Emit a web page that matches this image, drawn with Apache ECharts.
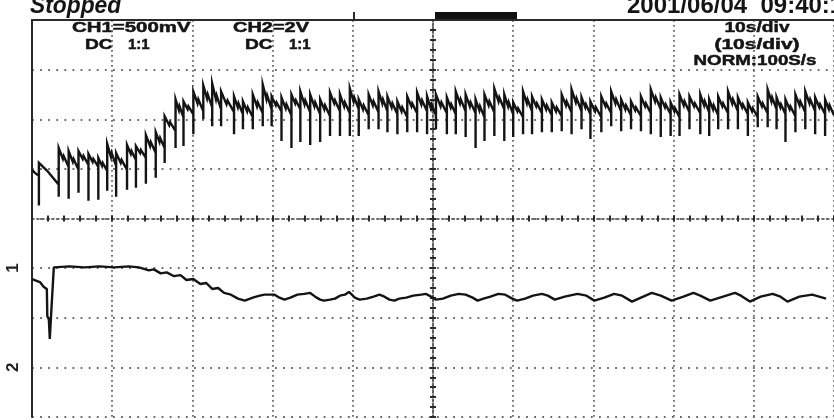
<!DOCTYPE html>
<html>
<head>
<meta charset="utf-8">
<script src="https://cdn.jsdelivr.net/npm/echarts@6/dist/echarts.min.js"></script>
<style>html,body{margin:0;padding:0;background:#fff}#c{width:834px;height:420px}</style>
</head>
<body>
<div id="c"></div>
<script>
// ---- CH1 (500 mV/div): sawtooth teeth, time in s (10 s/div), values in V ----
const ch1Time  = [0, 0.86, 3.33, 4.57, 5.80, 7.04, 8.27, 9.38, 10.49, 11.85, 12.96, 14.20, 15.43, 16.54, 17.90, 18.89, 20.12, 21.36, 22.47, 23.58, 25.19, 26.30, 27.53, 28.77, 29.88, 31.11, 32.35, 33.46, 34.69, 35.93, 37.16, 38.40, 39.63, 40.74, 41.98, 43.21, 44.32, 45.56, 46.79, 48.02, 49.26, 50.37, 51.73, 52.84, 54.07, 55.31, 56.42, 57.65, 58.89, 60.00, 61.23, 62.35, 63.58, 64.81, 66.05, 67.28, 68.52, 69.63, 70.99, 72.22, 73.46, 74.69, 75.93, 77.16, 78.40, 79.63, 80.74, 81.98, 83.33, 84.44, 85.56, 86.79, 88.02, 89.26, 90.49, 91.73, 92.84, 93.95, 95.19, 96.42, 97.65, 98.89];
const ch1Spike = [null, 0.63, 0.72, 0.70, 0.76, 0.68, 0.69, 0.78, 0.72, 0.79, 0.81, 0.85, 0.91, 1.06, 1.21, 1.23, 1.35, 1.50, 1.43, 1.43, 1.35, 1.40, 1.40, 1.43, 1.43, 1.28, 1.21, 1.27, 1.24, 1.27, 1.33, 1.33, 1.33, 1.33, 1.40, 1.40, 1.37, 1.35, 1.37, 1.37, 1.35, 1.40, 1.35, 1.35, 1.32, 1.21, 1.28, 1.33, 1.28, 1.32, 1.35, 1.35, 1.37, 1.37, 1.38, 1.35, 1.40, 1.30, 1.37, 1.43, 1.38, 1.40, 1.38, 1.35, 1.32, 1.33, 1.33, 1.40, 1.35, 1.33, 1.40, 1.40, 1.40, 1.33, 1.42, 1.42, 1.40, 1.27, 1.37, 1.40, 1.35, 1.33];
const ch1Peak  = [0.99, 1.06, 1.21, 1.18, 1.18, 1.15, 1.11, 1.25, 1.16, 1.24, 1.23, 1.34, 1.37, 1.53, 1.70, 1.68, 1.78, 1.84, 1.86, 1.78, 1.73, 1.68, 1.75, 1.85, 1.73, 1.72, 1.75, 1.78, 1.75, 1.70, 1.77, 1.75, 1.81, 1.70, 1.75, 1.78, 1.73, 1.68, 1.73, 1.77, 1.73, 1.75, 1.72, 1.78, 1.75, 1.70, 1.75, 1.81, 1.75, 1.67, 1.78, 1.73, 1.70, 1.67, 1.75, 1.80, 1.72, 1.68, 1.73, 1.78, 1.70, 1.68, 1.73, 1.80, 1.72, 1.67, 1.75, 1.73, 1.75, 1.70, 1.73, 1.78, 1.72, 1.67, 1.73, 1.80, 1.72, 1.70, 1.75, 1.78, 1.72, 1.70];
const ch1Dip   = [0.96, 0.98, 1.10, 1.07, 1.10, 1.07, 1.03, 1.12, 1.06, 1.15, 1.16, 1.23, 1.27, 1.44, 1.59, 1.60, 1.66, 1.71, 1.70, 1.65, 1.62, 1.58, 1.63, 1.70, 1.64, 1.61, 1.66, 1.65, 1.63, 1.60, 1.66, 1.63, 1.68, 1.60, 1.64, 1.66, 1.62, 1.58, 1.63, 1.65, 1.61, 1.63, 1.62, 1.66, 1.63, 1.59, 1.64, 1.68, 1.63, 1.58, 1.66, 1.63, 1.60, 1.58, 1.64, 1.67, 1.62, 1.58, 1.63, 1.66, 1.60, 1.59, 1.63, 1.68, 1.62, 1.58, 1.64, 1.63, 1.64, 1.60, 1.63, 1.66, 1.62, 1.58, 1.63, 1.68, 1.62, 1.60, 1.64, 1.66, 1.62, 1.60];
const ch1Bump  = [0.97, 1.00, 1.13, 1.10, 1.13, 1.10, 1.06, 1.16, 1.09, 1.18, 1.19, 1.27, 1.31, 1.47, 1.63, 1.63, 1.70, 1.75, 1.74, 1.69, 1.66, 1.62, 1.67, 1.74, 1.67, 1.65, 1.69, 1.69, 1.67, 1.64, 1.69, 1.67, 1.72, 1.64, 1.68, 1.70, 1.66, 1.62, 1.66, 1.69, 1.65, 1.67, 1.65, 1.70, 1.67, 1.63, 1.68, 1.72, 1.67, 1.61, 1.70, 1.66, 1.64, 1.62, 1.68, 1.71, 1.65, 1.62, 1.66, 1.70, 1.64, 1.62, 1.66, 1.72, 1.65, 1.61, 1.68, 1.66, 1.68, 1.64, 1.66, 1.70, 1.65, 1.61, 1.66, 1.72, 1.65, 1.63, 1.68, 1.70, 1.65, 1.64];
const ch1Low   = [0.93, 0.84, 1.02, 0.99, 1.04, 1.02, 0.98, 1.03, 0.99, 1.09, 1.11, 1.16, 1.21, 1.38, 1.52, 1.55, 1.58, 1.62, 1.60, 1.57, 1.55, 1.52, 1.56, 1.60, 1.58, 1.54, 1.60, 1.57, 1.55, 1.53, 1.58, 1.56, 1.60, 1.54, 1.57, 1.58, 1.55, 1.52, 1.56, 1.58, 1.54, 1.56, 1.55, 1.58, 1.56, 1.52, 1.57, 1.60, 1.55, 1.52, 1.58, 1.56, 1.54, 1.53, 1.57, 1.58, 1.55, 1.52, 1.56, 1.58, 1.54, 1.53, 1.56, 1.60, 1.55, 1.52, 1.57, 1.56, 1.57, 1.54, 1.56, 1.58, 1.55, 1.52, 1.56, 1.60, 1.55, 1.53, 1.57, 1.58, 1.55, 1.54];

// ---- CH2 (2 V/div) ----
const ch2Time = [0, 0.99, 1.48, 1.85, 1.91, 2.10, 2.22, 2.35, 2.59, 2.72, 4.69, 6.54, 8.40, 10.25, 12.10, 13.33, 14.57, 15.19, 16.05, 16.79, 17.65, 18.52, 19.26, 20.12, 20.99, 21.73, 22.47, 23.21, 23.95, 24.81, 25.68, 26.54, 27.53, 28.40, 29.01, 30.25, 30.86, 31.48, 32.22, 33.09, 33.95, 34.69, 35.31, 35.93, 36.42, 37.16, 37.78, 38.40, 39.01, 39.51, 39.88, 40.25, 40.86, 41.73, 42.59, 43.33, 43.95, 44.57, 45.19, 45.80, 46.67, 47.53, 48.52, 49.14, 49.75, 50.37, 51.23, 52.22, 53.21, 54.07, 54.94, 55.56, 56.30, 57.16, 58.15, 59.01, 59.88, 60.49, 61.48, 62.47, 63.58, 64.32, 65.19, 66.42, 68.02, 69.14, 70.12, 71.36, 72.59, 73.58, 74.81, 75.93, 77.28, 78.40, 79.75, 81.23, 82.47, 83.33, 84.57, 86.17, 87.65, 88.40, 89.51, 90.86, 92.35, 93.33, 94.20, 95.68, 97.28, 98.15, 99.01];
const ch2Volt = [3.56, 3.44, 3.24, 3.16, 2.06, 1.94, 1.15, 1.94, 2.02, 4.03, 4.07, 4.03, 4.07, 4.03, 4.07, 4.03, 3.91, 3.95, 3.79, 3.83, 3.68, 3.72, 3.52, 3.56, 3.36, 3.40, 3.16, 3.20, 3.00, 2.93, 2.77, 2.69, 2.81, 2.89, 2.93, 2.93, 2.81, 2.73, 2.81, 2.93, 2.96, 3.00, 2.85, 2.73, 2.69, 2.73, 2.77, 2.89, 2.93, 3.04, 2.93, 2.81, 2.73, 2.77, 2.85, 2.93, 2.85, 2.73, 2.69, 2.77, 2.81, 2.89, 2.93, 2.96, 2.85, 2.73, 2.77, 2.89, 2.96, 2.93, 2.81, 2.69, 2.77, 2.85, 2.96, 2.93, 2.77, 2.69, 2.77, 2.89, 2.96, 2.89, 2.73, 2.85, 2.96, 2.89, 2.69, 2.81, 2.96, 2.89, 2.65, 2.81, 3.00, 2.89, 2.69, 2.85, 3.00, 2.89, 2.69, 2.85, 3.00, 2.89, 2.65, 2.85, 2.96, 2.85, 2.65, 2.85, 2.93, 2.85, 2.77];

// ---- header texts ----
const statusText = 'Stopped';
const dateText = '2001/06/04  09:40:18';
const ch1Label = 'CH1=500mV';
const ch2Label = 'CH2=2V';
const couplingLabel = 'DC';
const probeLabel = '1:1';
const timebaseLabels = ['10s/div', '(10s/div)', 'NORM:100S/s'];

function buildCh1() {
  const pts = [];
  for (let i = 0; i < ch1Time.length; i++) {
    const t0 = ch1Time[i];
    const t1 = i + 1 < ch1Time.length ? ch1Time[i + 1] : 100;
    if (ch1Spike[i] !== null) pts.push([t0, ch1Spike[i]]);
    pts.push([t0, ch1Peak[i]]);
    pts.push([t0 + (t1 - t0) * 0.42, ch1Dip[i]]);
    pts.push([t0 + (t1 - t0) * 0.5, ch1Bump[i]]);
    pts.push([t1, ch1Low[i]]);
  }
  return pts;
}
const ch2Data = ch2Time.map((t, i) => [t, ch2Volt[i]]);

const dotColor = '#6a6a6a';
const ink = '#141414';
const font = 'bold 15px "Liberation Sans", Arial, sans-serif';
const txt = (text, x, y, sx, align) => ({
  type: 'text', x: x, y: y, scaleX: sx,
  style: {text: text, font: font, fill: ink, stroke: ink, lineWidth: 0.5, align: align || 'left', verticalAlign: 'middle'}
});

const chart = echarts.init(document.getElementById('c'), null, {renderer: 'canvas'});
chart.setOption({
  animation: false,
  backgroundColor: '#ffffff',
  grid: {left: 32, top: 20, width: 810, height: 405, containLabel: false},
  xAxis: [
    {type: 'value', min: 0, max: 100, interval: 10, position: 'top',
     axisLine: {show: true, onZero: false, lineStyle: {color: '#2a2a2a', width: 2}},
     axisTick: {show: false}, axisLabel: {show: false},
     splitLine: {show: true, lineStyle: {color: dotColor, width: 1.8, type: [1.8, 3.2]}}},
    {type: 'value', min: -5, max: 5, interval: 1, position: 'bottom',
     axisLine: {show: true, onZero: true, onZeroAxisIndex: 2, lineStyle: {color: dotColor, width: 1.8, type: [1.8, 3.2]}},
     axisTick: {show: true, inside: false, length: 3, lineStyle: {color: '#2a2a2a', width: 2}},
     minorTick: {show: true, splitNumber: 5, length: 3, lineStyle: {color: '#2a2a2a', width: 2}},
     axisLabel: {show: false}, splitLine: {show: false}},
    {type: 'value', min: -5, max: 5, interval: 1, position: 'bottom',
     axisLine: {show: false, onZero: true, onZeroAxisIndex: 2},
     axisTick: {show: true, inside: true, length: 3, lineStyle: {color: '#2a2a2a', width: 2}},
     minorTick: {show: true, splitNumber: 5, length: 3, lineStyle: {color: '#2a2a2a', width: 2}},
     axisLabel: {show: false}, splitLine: {show: false}}
  ],
  yAxis: [
    {type: 'value', min: -1.5, max: 2.5, interval: 0.5, position: 'left',
     axisLine: {show: true, onZero: false, lineStyle: {color: '#2a2a2a', width: 2}},
     axisTick: {show: false},
     axisLabel: {show: true, margin: 10, color: '#222', fontWeight: 'bold', fontSize: 17, rotate: 90,
                 formatter: v => (v === 0 ? '1' : '')},
     splitLine: {show: true, lineStyle: {color: dotColor, width: 1.8, type: [1.8, 6.3]}}},
    {type: 'value', min: -2, max: 14, interval: 2, position: 'left',
     axisLine: {show: false, onZero: false}, axisTick: {show: false},
     axisLabel: {show: true, margin: 10, color: '#222', fontWeight: 'bold', fontSize: 17, rotate: 90,
                 formatter: v => (v === 0 ? '2' : '')},
     splitLine: {show: false}},
    {type: 'value', min: -4, max: 4, interval: 1, position: 'left', show: false,
     axisLine: {onZero: false}},
    {type: 'value', min: -4, max: 4, interval: 1, position: 'left',
     axisLine: {show: true, onZero: true, onZeroAxisIndex: 1, lineStyle: {color: '#555', width: 1.8, type: [1.8, 2.2]}},
     axisTick: {show: true, inside: false, length: 3, lineStyle: {color: '#2a2a2a', width: 2}},
     minorTick: {show: true, splitNumber: 5, length: 3, lineStyle: {color: '#2a2a2a', width: 2}},
     axisLabel: {show: false}, splitLine: {show: false}},
    {type: 'value', min: -4, max: 4, interval: 1, position: 'left',
     axisLine: {show: false, onZero: true, onZeroAxisIndex: 1},
     axisTick: {show: true, inside: true, length: 3, lineStyle: {color: '#2a2a2a', width: 2}},
     minorTick: {show: true, splitNumber: 5, length: 3, lineStyle: {color: '#2a2a2a', width: 2}},
     axisLabel: {show: false}, splitLine: {show: false}}
  ],
  series: [
    {name: 'CH1', type: 'line', xAxisIndex: 0, yAxisIndex: 0, data: buildCh1(),
     showSymbol: false, symbol: 'none', lineStyle: {color: ink, width: 2.4, join: 'miter'}, z: 5},
    {name: 'CH2', type: 'line', xAxisIndex: 0, yAxisIndex: 1, data: ch2Data,
     showSymbol: false, symbol: 'none', lineStyle: {color: ink, width: 2.4}, z: 5}
  ],
  graphic: [
    {type: 'text', x: 30, y: 18, scaleX: 0.95, style: {text: statusText, font: 'bold italic 24px "Liberation Sans", Arial, sans-serif', fill: ink, verticalAlign: 'bottom'}},
    {type: 'text', x: 627, y: 18, style: {text: dateText, font: 'bold 24px "Liberation Sans", Arial, sans-serif', fill: ink, verticalAlign: 'bottom'}},
    {type: 'line', shape: {x1: 354, y1: 12, x2: 354, y2: 20}, style: {stroke: '#2a2a2a', lineWidth: 2}},
    {type: 'rect', shape: {x: 435, y: 12, width: 82, height: 8}, style: {fill: '#111'}},
    txt(ch1Label, 72, 28, 1.36),
    txt(couplingLabel, 85, 45, 1.28),
    txt(probeLabel, 128, 45, 1.0),
    txt(ch2Label, 233, 28, 1.33),
    txt(couplingLabel, 245, 45, 1.28),
    txt(probeLabel, 289, 45, 1.0),
    txt(timebaseLabels[0], 757, 28, 1.28, 'center'),
    txt(timebaseLabels[1], 757, 45, 1.4, 'center'),
    txt(timebaseLabels[2], 755, 61, 1.25, 'center')
  ]
});
</script>
</body>
</html>
